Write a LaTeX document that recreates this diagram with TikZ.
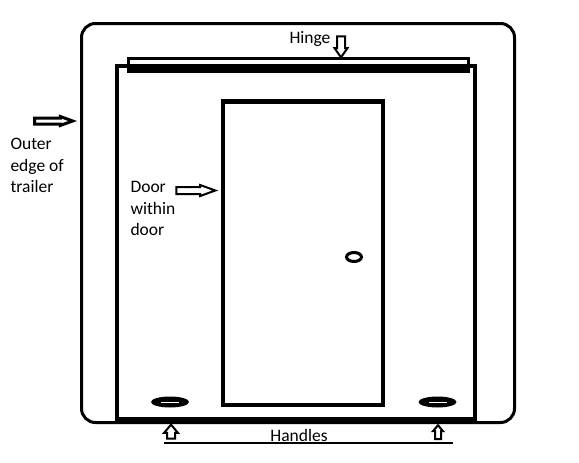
\documentclass[tikz,border=0pt]{standalone}
\usepackage{fontspec}
\setmainfont{Carlito}
\usetikzlibrary{shapes.arrows,shapes.geometric,positioning}

\begin{document}
\begin{tikzpicture}[x=1pt,y=-1pt, every node/.style={font=\fontsize{17.5}{21.5}\selectfont},
    pointer/.style={single arrow, draw, fill=white, line width=2pt, inner sep=#1, minimum size=0pt},
    gripfill/.style={fill=black}]
    \useasboundingbox (0,0) rectangle (579,463);
    % trailer and door frame
    \draw[line width=3pt, rounded corners=14pt] (81.5,23.5) rectangle (514.5,422.5);
    \draw[line width=4pt] (116.5,66) rectangle (474.5,420);
    \draw[line width=7pt] (114.5,420.5) -- (477,420.5);
    \draw[line width=3pt] (128,58.5) rectangle (468,71);
    \fill (128,64) rectangle (468,73);
    % small door
    \draw[line width=4.5pt] (223,101.5) rectangle (383,405);
    \node[ellipse, draw, line width=3pt, minimum width=15pt, minimum height=9pt, inner sep=0pt] (knob) at (354,257) {};
    \foreach \i/\x in {1/170,2/437.5}{
        \coordinate (h\i) at (\x,402);
        \fill[gripfill] (h\i) ellipse [x radius=19, y radius=5.5];
        \draw[white, line width=0.4pt] ([xshift=-9pt]h\i) -- ([xshift=9pt]h\i);
    }
    % labels and pointers
    \node (hinge) at (310,39) {Hinge};
    \node[pointer=3pt, shape border rotate=270, single arrow head extend=2.5pt, single arrow tip angle=70, minimum height=21pt] (hingeArrow) at (341,44) {};
    \node[anchor=north west, align=left] (outer) at (7,135) {Outer\\edge of\\trailer};
    \node[pointer=1.5pt, line width=3pt, single arrow head extend=1.5pt, single arrow tip angle=40, minimum height=38pt] (outerArrow) at (49.5,121) {};
    \node[anchor=north west, align=left] (inner) at (127,178) {Door\\within\\door};
    \node[pointer=2.5pt, single arrow head extend=2pt, single arrow tip angle=40, minimum height=39pt] (doorArrow) at (191,190.5) {};
    \node (handles) at (299,435) {Handles};
    \coordinate (b1) at (164,443);
    \coordinate (b2) at (453,443);
    \draw[line width=2.5pt] (b1) -- (b2);
    \foreach \i/\x/\w/\e in {1/171/3pt/3pt,2/438/2pt/2pt}{
        \node[pointer=\w, shape border rotate=90, single arrow head extend=\e, single arrow tip angle=80, minimum height=14pt] (up\i) at (\x,434) {};
    }
\end{tikzpicture}
\end{document}
